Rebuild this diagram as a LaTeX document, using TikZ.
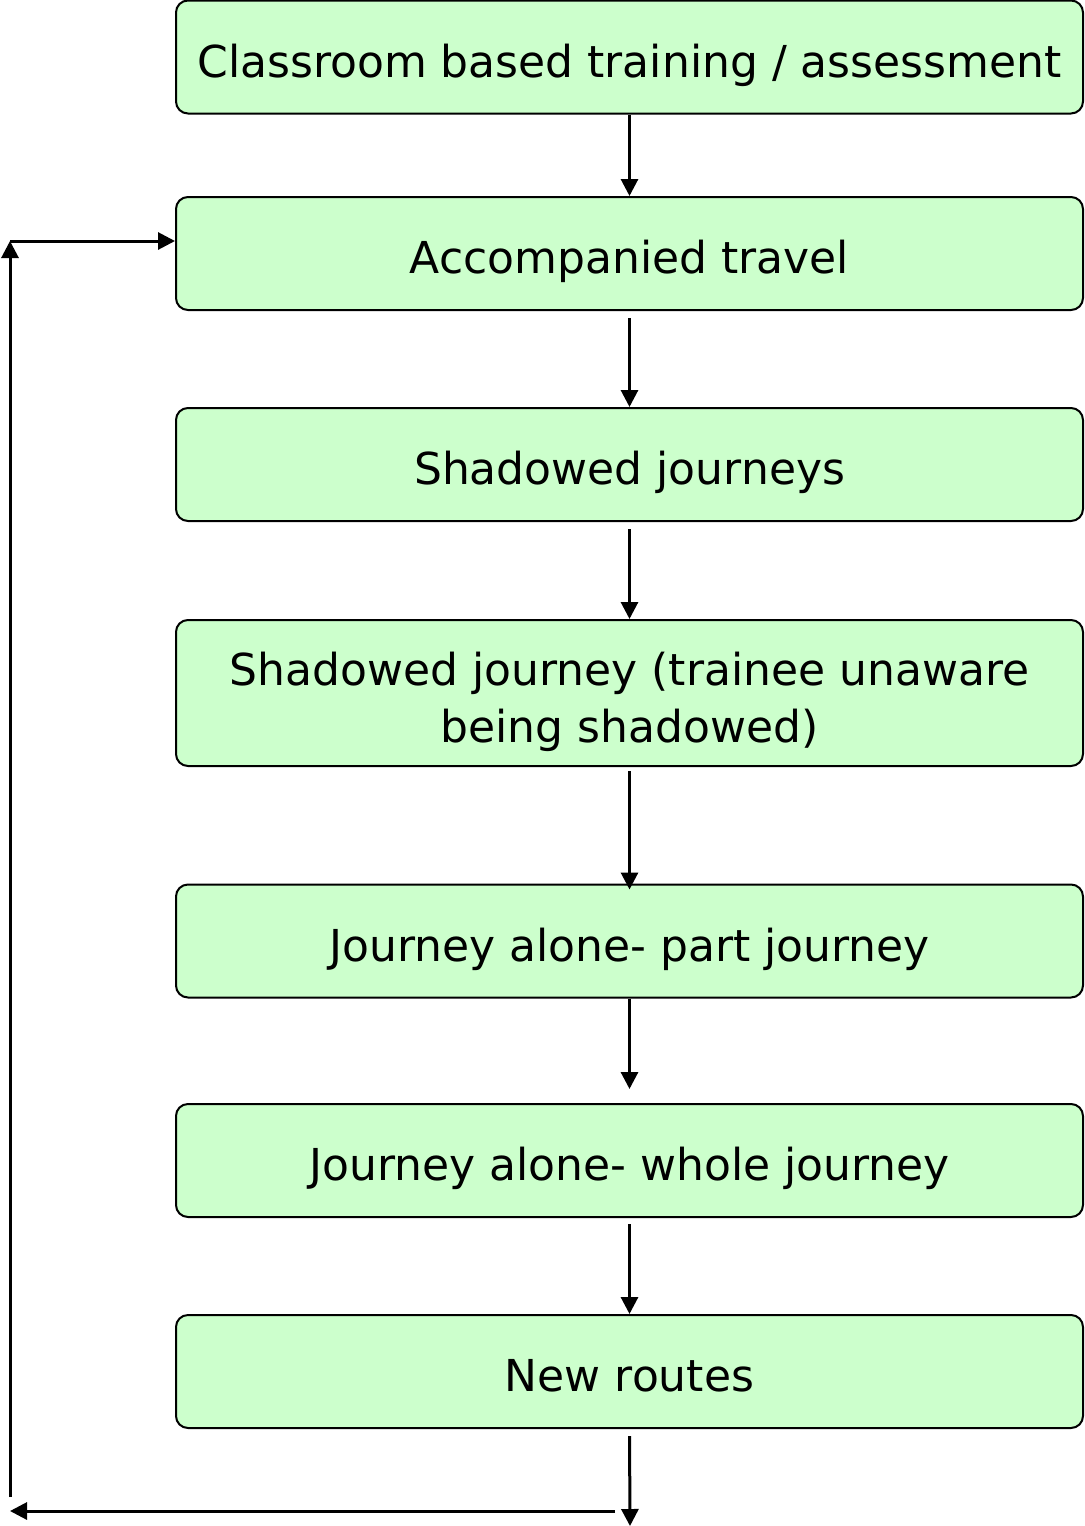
\documentclass[tikz,border=0pt]{standalone}
\usepackage{fontspec}
\setmainfont{DejaVu Sans}
\usetikzlibrary{arrows.meta}
\definecolor{boxgreen}{RGB}{204,255,204}
\begin{document}
\begin{tikzpicture}[x=0.5pt,y=-0.5pt,
  stepbox/.style={draw=black, fill=boxgreen, line width=1pt, rounded corners=6pt,
    minimum width=453.5pt, minimum height=56.5pt, inner sep=0pt, align=center,
    text height=22pt, text depth=2pt,
    font=\fontsize{22}{28.5}\selectfont},
  flow/.style={line width=1.5pt, -{Triangle[length=8.5pt,width=8.5pt]}}]
\useasboundingbox (0,0) rectangle (1084,1526);
\node[stepbox] (b1) at (629.5,57) {Classroom based training / assessment};
\node[stepbox] (b2) at (629.5,253.5) {Accompanied travel};
\node[stepbox] (b3) at (629.5,464.5) {Shadowed journeys};
\node[stepbox, minimum height=73pt, text height=50pt, text depth=1pt] (b4) at (629.5,693) {Shadowed journey (trainee unaware\\being shadowed)};
\node[stepbox] (b5) at (629.5,941) {Journey alone- part journey};
\node[stepbox] (b6) at (629.5,1160.5) {Journey alone- whole journey};
\node[stepbox] (b7) at (629.5,1371.5) {New routes};
\draw[flow] (b1.south) -- (b2.north);
\draw[flow, shorten <=3.5pt] (b2.south) -- (b3.north);
\draw[flow, shorten <=3.5pt] (b3.south) -- (b4.north);
\draw[flow, shorten <=2pt, shorten >=-3pt] (b4.south) -- (b5.north);
\draw[flow, shorten >=7pt] (b5.south) -- (b6.north);
\draw[flow, shorten <=3pt] (b6.south) -- (b7.north);
\coordinate (out) at (630,1526);
\draw[flow, shorten <=3.5pt] (b7.south) -- (out);
\coordinate (fbR) at (615,1511);
\coordinate (fbL) at (10,1511);
\coordinate (fbB) at (10,1497);
\coordinate (fbT) at (10,241);
\draw[flow] (fbR) -- (fbL);
\draw[flow] (fbB) -- (fbT);
\draw[flow] (fbT) -- ([yshift=6.25pt]b2.west);
\end{tikzpicture}
\end{document}
